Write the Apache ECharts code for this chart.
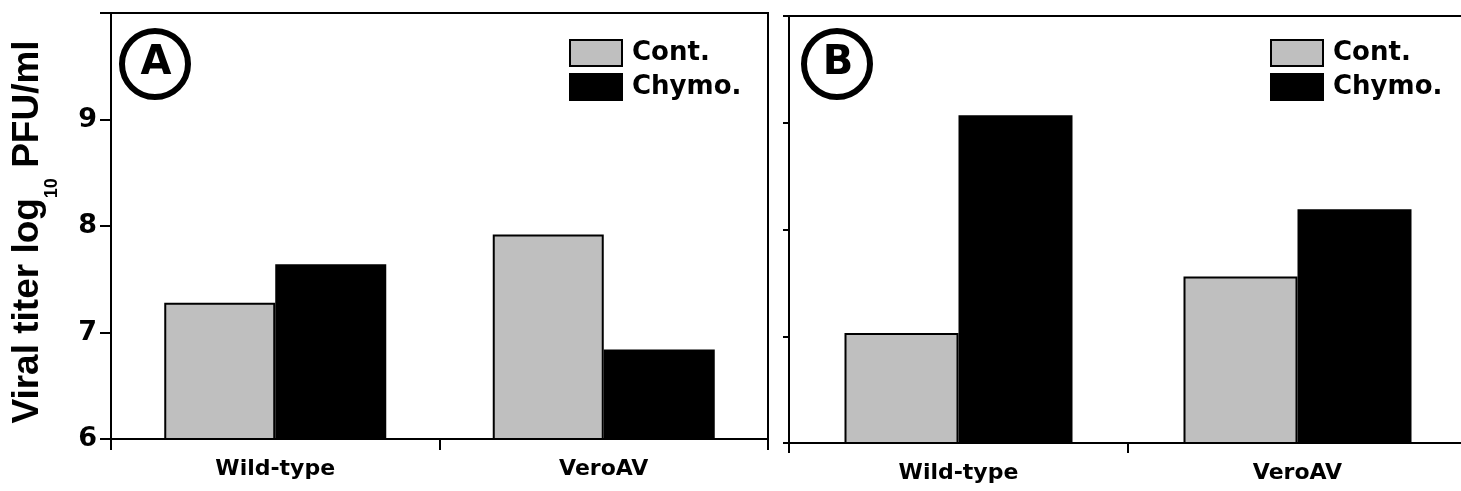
<!DOCTYPE html>
<html>
<head>
<meta charset="utf-8">
<script src="https://cdn.jsdelivr.net/npm/echarts@6/dist/echarts.min.js"></script>
<style>
html,body{margin:0;padding:0;background:#fff;overflow:hidden;}
#c{width:1461px;height:491px;}
</style>
</head>
<body>
<div id="c"></div>
<script>
const categories = ['Wild-type', 'VeroAV'];
const contA = [7.28, 7.92];
const chymoA = [7.64, 6.84];
const contB = [7.03, 7.56];
const chymoB = [9.07, 8.19];
const yTickLabels = ['6', '7', '8', '9'];
const seriesNames = ['Cont.', 'Chymo.'];
const panelLetters = ['A', 'B'];

const FONT = '"DejaVu Sans", "Liberation Sans", Arial, sans-serif';
const ARIAL = '"Liberation Sans", Arial, sans-serif';
const GRAY = '#bfbfbf';

const chart = echarts.init(document.getElementById('c'), null, {renderer: 'canvas'});

function xAxisFor(gridIndex, tickLen) {
  return {
    type: 'category', gridIndex: gridIndex, data: categories,
    axisLine: {show: true, lineStyle: {color: '#000', width: 2}},
    axisTick: {show: true, alignWithLabel: false, length: tickLen, lineStyle: {color: '#000', width: 2}},
    axisLabel: {color: '#000', fontFamily: FONT, fontWeight: 'bold', fontSize: 22, margin: 19},
    splitLine: {show: false}
  };
}
function topLineAxis(gridIndex) {
  return {
    type: 'category', gridIndex: gridIndex, data: categories, position: 'top',
    axisLine: {show: true, onZero: false, lineStyle: {color: '#000', width: 2}},
    axisTick: {show: false}, axisLabel: {show: false}, splitLine: {show: false}
  };
}
function yAxisFor(gridIndex, showLabels, tickLen) {
  const ax = {
    type: 'value', gridIndex: gridIndex, min: 6, max: 10, interval: 1,
    axisLine: {show: true, lineStyle: {color: '#000', width: 2}},
    axisTick: {show: true, length: tickLen, lineStyle: {color: '#000', width: 2}},
    axisLabel: {
      show: showLabels, color: '#000', fontFamily: FONT, fontWeight: 'bold', fontSize: 27, margin: 14,
      formatter: function (v) { return yTickLabels.indexOf(String(v)) >= 0 ? String(v) : ''; }
    },
    splitLine: {show: false}
  };
  if (showLabels) {
    ax.name = 'Viral titer log{sub|10} PFU/ml';
    ax.nameLocation = 'middle';
    ax.nameRotate = 90;
    ax.nameGap = 50;
    ax.nameTextStyle = {
      color: '#000', fontFamily: ARIAL, fontWeight: 'bold', fontSize: 37, lineHeight: 66,
      padding: [0, 12, 0, 0],
      rich: {
        sub: {fontFamily: ARIAL, fontWeight: 'bold', fontSize: 18, lineHeight: 18, color: '#000', verticalAlign: 'bottom'}
      }
    };
  }
  return ax;
}
function barSeries(name, data, idx, color, width) {
  return {
    type: 'bar', name: name, data: data, xAxisIndex: idx, yAxisIndex: idx,
    barWidth: width, barGap: '0%',
    itemStyle: {color: color, borderColor: '#000', borderWidth: 2},
    emphasis: {disabled: true}, animation: false
  };
}
function legendFor(left) {
  return {
    data: seriesNames, orient: 'vertical', left: left, top: 39, padding: 0,
    icon: 'rect',
    itemWidth: 52, itemHeight: 26, itemGap: 6,
    selectedMode: false,
    textStyle: {color: '#000', fontFamily: FONT, fontWeight: 'bold', fontSize: 26, lineHeight: 26, padding: [0, 0, 0, 5]}
  };
}
function circleLabel(cx, cy, letter) {
  return {
    type: 'group', children: [
      {type: 'circle', shape: {cx: cx, cy: cy, r: 33}, style: {fill: 'none', stroke: '#000', lineWidth: 6}},
      {type: 'text', x: cx + 1, y: cy, style: {text: letter, fill: '#000', fontFamily: FONT, fontWeight: 'bold', fontSize: 40, align: 'center', verticalAlign: 'middle'}}
    ]
  };
}

chart.setOption({
  animation: false,
  backgroundColor: '#fff',
  grid: [
    {left: 111, top: 13, width: 657, height: 426, outerBoundsMode: 'none', containLabel: false, show: true, borderColor: '#000', borderWidth: 2, backgroundColor: 'transparent'},
    {left: 789, top: 16, width: 678, height: 427, outerBoundsMode: 'none', containLabel: false, show: false}
  ],
  xAxis: [xAxisFor(0, 11), xAxisFor(1, 10), topLineAxis(1)],
  yAxis: [yAxisFor(0, true, 11), yAxisFor(1, false, 6)],
  legend: [legendFor(569), legendFor(1270)],
  series: [
    barSeries(seriesNames[0], contA, 0, GRAY, 111),
    barSeries(seriesNames[1], chymoA, 0, '#000', 111),
    barSeries(seriesNames[0], contB, 1, GRAY, 114),
    barSeries(seriesNames[1], chymoB, 1, '#000', 114)
  ],
  graphic: [
    circleLabel(155, 64, panelLetters[0]),
    circleLabel(837, 64, panelLetters[1])
  ]
});
</script>
</body>
</html>
